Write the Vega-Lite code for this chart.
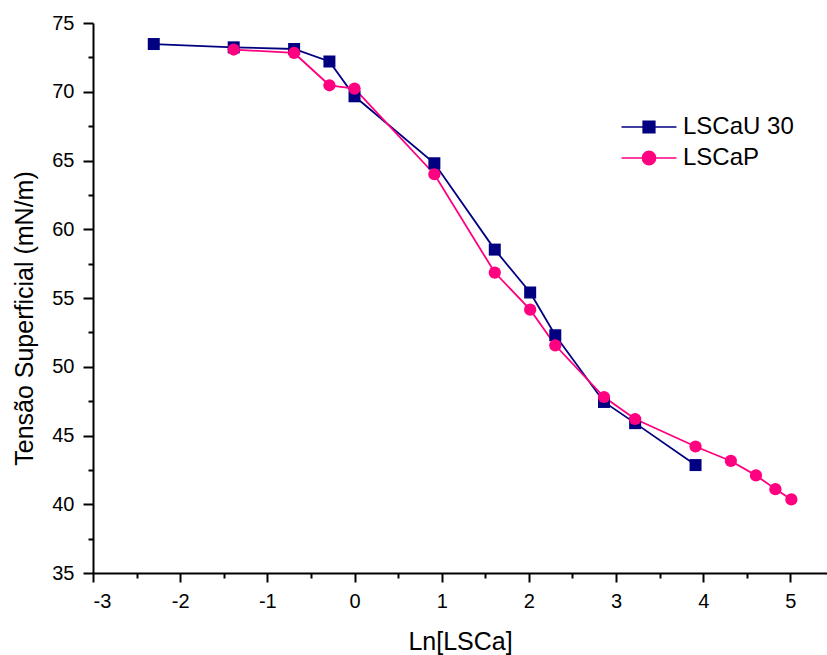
{
  "$schema": "https://vega.github.io/schema/vega-lite/v6.json",
  "width": 734,
  "height": 550,
  "autosize": {"type": "none"},
  "padding": {"left": 93, "top": 23, "right": 0, "bottom": 82},
  "config": {
    "font": "Liberation Sans",
    "view": {"stroke": null},
    "axis": {
      "domainColor": "#000000",
      "domainWidth": 2,
      "tickColor": "#000000",
      "tickWidth": 2,
      "grid": false,
      "labelFont": "Liberation Sans",
      "labelFontSize": 20,
      "labelColor": "#000000",
      "labelOverlap": false,
      "labelPadding": 9,
      "titleFont": "Liberation Sans",
      "titleFontSize": 25,
      "titleFontWeight": "normal",
      "titleColor": "#000000"
    }
  },
  "data": {
    "values": [
      {"series": "LSCaU 30", "lnc": -2.303, "tension": 73.47},
      {"series": "LSCaU 30", "lnc": -1.386, "tension": 73.23},
      {"series": "LSCaU 30", "lnc": -0.693, "tension": 73.11},
      {"series": "LSCaU 30", "lnc": -0.288, "tension": 72.2},
      {"series": "LSCaU 30", "lnc": 0.0, "tension": 69.67},
      {"series": "LSCaU 30", "lnc": 0.916, "tension": 64.8},
      {"series": "LSCaU 30", "lnc": 1.609, "tension": 58.52},
      {"series": "LSCaU 30", "lnc": 2.015, "tension": 55.4},
      {"series": "LSCaU 30", "lnc": 2.303, "tension": 52.29},
      {"series": "LSCaU 30", "lnc": 2.862, "tension": 47.44},
      {"series": "LSCaU 30", "lnc": 3.219, "tension": 45.9},
      {"series": "LSCaU 30", "lnc": 3.912, "tension": 42.85},
      {"series": "LSCaP", "lnc": -1.386, "tension": 73.07},
      {"series": "LSCaP", "lnc": -0.693, "tension": 72.82},
      {"series": "LSCaP", "lnc": -0.288, "tension": 70.47},
      {"series": "LSCaP", "lnc": 0.0, "tension": 70.23},
      {"series": "LSCaP", "lnc": 0.916, "tension": 64.0},
      {"series": "LSCaP", "lnc": 1.609, "tension": 56.85},
      {"series": "LSCaP", "lnc": 2.015, "tension": 54.15},
      {"series": "LSCaP", "lnc": 2.303, "tension": 51.56},
      {"series": "LSCaP", "lnc": 2.862, "tension": 47.8},
      {"series": "LSCaP", "lnc": 3.219, "tension": 46.2},
      {"series": "LSCaP", "lnc": 3.912, "tension": 44.2},
      {"series": "LSCaP", "lnc": 4.317, "tension": 43.15},
      {"series": "LSCaP", "lnc": 4.605, "tension": 42.1},
      {"series": "LSCaP", "lnc": 4.828, "tension": 41.1},
      {"series": "LSCaP", "lnc": 5.011, "tension": 40.35}
    ]
  },
  "encoding": {
    "x": {
      "field": "lnc",
      "type": "quantitative",
      "scale": {"domain": [-3, 5.42], "nice": false, "zero": false},
      "axis": {
        "title": "Ln[LSCa]",
        "titlePadding": 18,
        "values": [-3, -2.5, -2, -1.5, -1, -0.5, 0, 0.5, 1, 1.5, 2, 2.5, 3, 3.5, 4, 4.5, 5],
        "labelExpr": "datum.value % 1 === 0 ? '' + datum.value : ''",
        "tickSize": {"condition": {"test": "datum.value % 1 !== 0", "value": 5}, "value": 9}
      }
    },
    "y": {
      "field": "tension",
      "type": "quantitative",
      "scale": {"domain": [35, 75], "nice": false, "zero": false},
      "axis": {
        "title": "Tensão Superficial (mN/m)",
        "titlePadding": 14,
        "titleY": 295,
        "values": [35, 37.5, 40, 42.5, 45, 47.5, 50, 52.5, 55, 57.5, 60, 62.5, 65, 67.5, 70, 72.5, 75],
        "labelExpr": "datum.value % 5 === 0 ? '' + datum.value : ''",
        "tickSize": {"condition": {"test": "datum.value % 5 !== 0", "value": 5}, "value": 10}
      }
    },
    "color": {
      "field": "series",
      "type": "nominal",
      "sort": ["LSCaU 30", "LSCaP"],
      "scale": {"domain": ["LSCaU 30", "LSCaP"], "range": ["#000080", "#FF0080"]},
      "legend": {
        "title": null,
        "orient": "none",
        "legendX": 544,
        "legendY": 92,
        "padding": 0,
        "labelFontSize": 24,
        "labelFont": "Liberation Sans",
        "labelColor": "#000000",
        "labelOffset": 22,
        "symbolSize": 400,
        "symbolStrokeWidth": 1.5,
        "rowPadding": 7,
        "encode": {
          "symbols": {
            "update": {
              "shape": {"signal": "datum.value === 'LSCaP' ? 'M-2.75,0H2.75M-0.665,0A0.665,0.665,0,1,0,0.665,0A0.665,0.665,0,1,0,-0.665,0Z' : 'M-2.75,0H2.75M-0.585,-0.585H0.585V0.585H-0.585Z'"},
              "fill": {"signal": "datum.value === 'LSCaP' ? '#FF0080' : '#000080'"},
              "stroke": {"signal": "datum.value === 'LSCaP' ? '#FF0080' : '#000080'"},
              "opacity": {"value": 1},
              "fillOpacity": {"value": 1},
              "strokeOpacity": {"value": 1}
            }
          }
        }
      }
    }
  },
  "layer": [
    {
      "mark": {"type": "line", "strokeWidth": 1.8},
      "encoding": {}
    },
    {
      "transform": [{"filter": "datum.series === 'LSCaU 30'"}],
      "mark": {"type": "point", "shape": "square", "filled": true, "opacity": 1, "size": 144},
      "encoding": {}
    },
    {
      "transform": [{"filter": "datum.series === 'LSCaP'"}],
      "mark": {"type": "point", "shape": "circle", "filled": true, "opacity": 1, "size": 150},
      "encoding": {}
    }
  ]
}
